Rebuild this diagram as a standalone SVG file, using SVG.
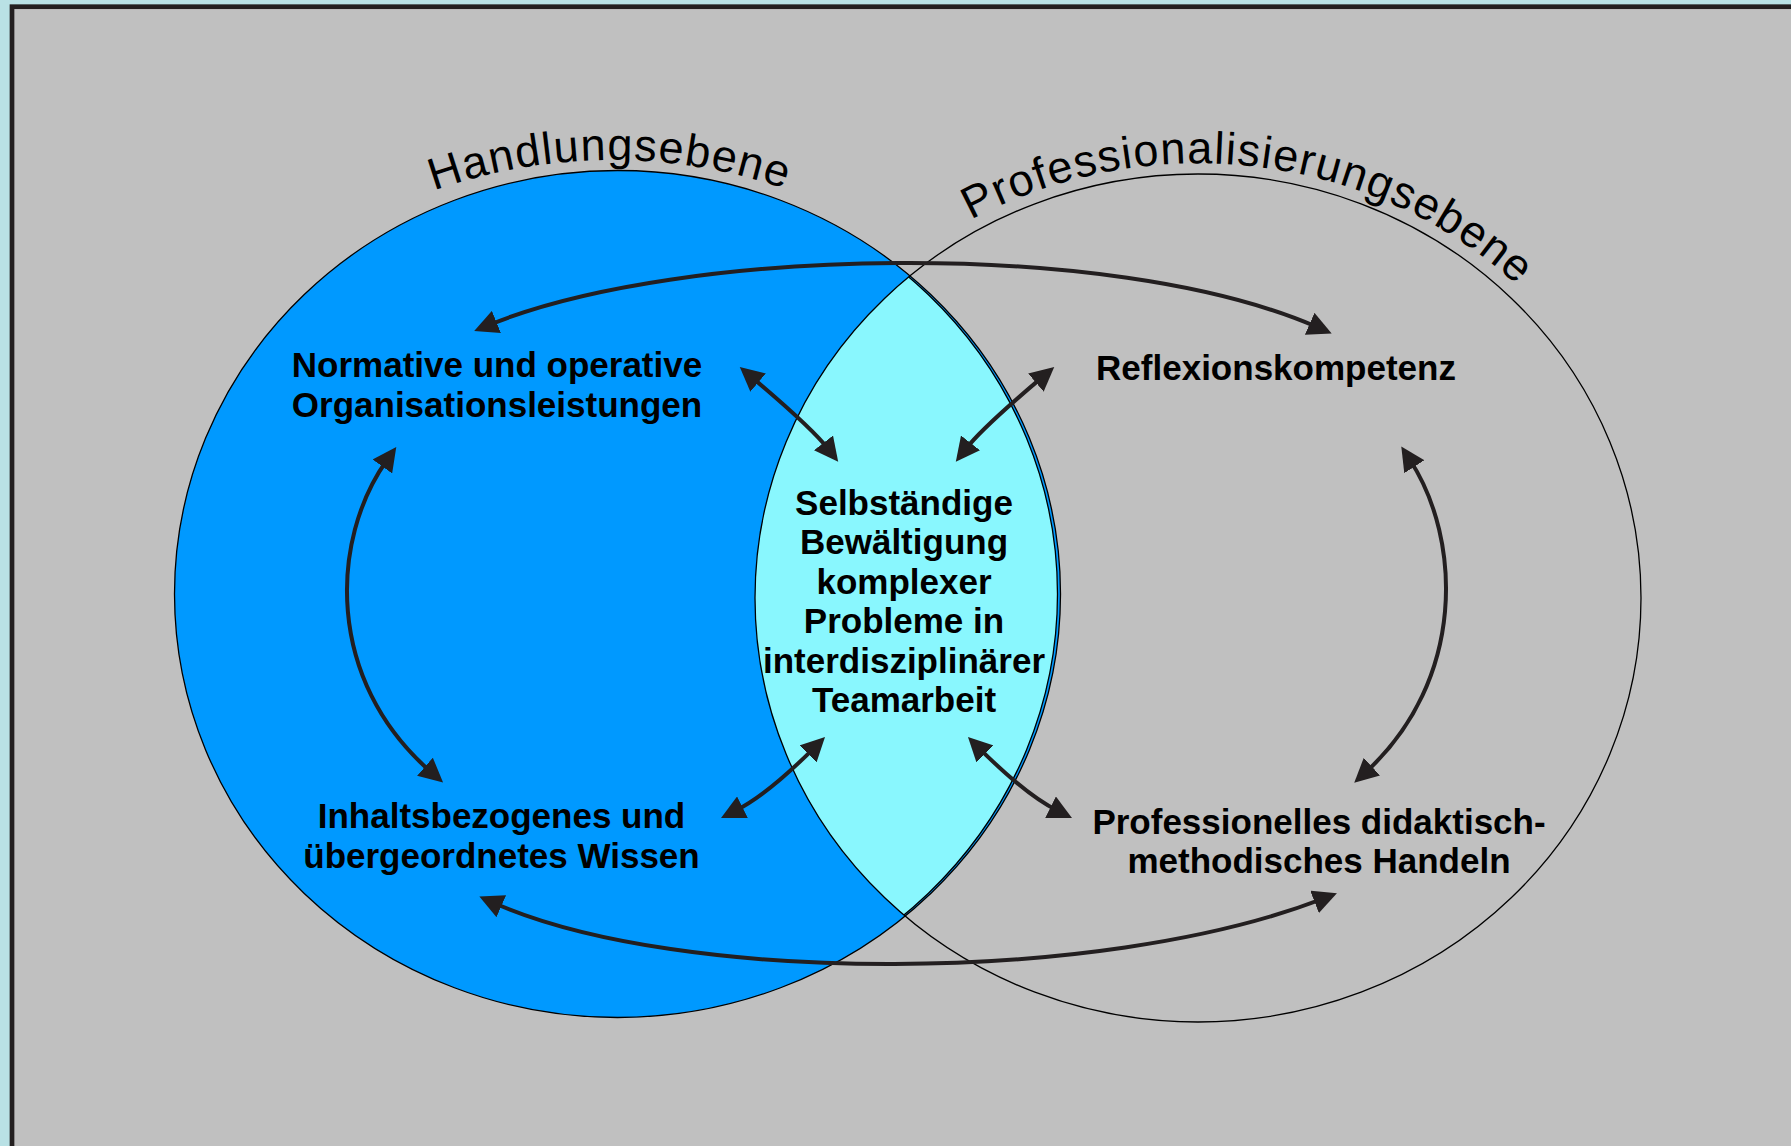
<svg xmlns="http://www.w3.org/2000/svg" width="1791" height="1146" viewBox="0 0 1791 1146">
  <style>
    .lbl { font-family: "Liberation Sans", Arial, Helvetica, sans-serif; font-weight: bold; font-size: 35px; fill: #000; text-anchor: middle; }
    .ttl { font-family: "Liberation Sans", Arial, Helvetica, sans-serif; font-weight: normal; font-size: 45px; letter-spacing: 1.3px; fill: #000; }
    .outline { fill: none; stroke: #000; stroke-width: 1.3; }
    .conn { fill: none; stroke: #231f20; stroke-width: 4; marker-start: url(#ah); marker-end: url(#ah); }
  </style>
  <defs>
    <marker id="ah" viewBox="0 -12 24 24" refX="8" refY="0" markerWidth="24" markerHeight="24" markerUnits="userSpaceOnUse" orient="auto-start-reverse">
      <path d="M0,-12 L24,0 L0,12 z" fill="#231f20"/>
    </marker>
    <clipPath id="rightClip">
      <ellipse cx="1198" cy="598" rx="443" ry="424"/>
    </clipPath>
    <path id="arcLeft" d="M434,190.8 A500,470 0 0 1 1112,630"/>
    <path id="arcRight" d="M971,220 A460,436 0 0 1 1658,599"/>
  </defs>

  <rect x="0" y="0" width="1791" height="1146" fill="#b9e1e5"/>
  <rect id="frame" x="12" y="6.7" width="1800" height="1160" fill="#c0c0c0" stroke="#231f20" stroke-width="4.7"/>

  <g id="circle-handlungsebene">
    <ellipse cx="617.5" cy="594" rx="443" ry="423.5" fill="#0099ff" stroke="#000" stroke-width="1.3"/>
  </g>
  <g id="lens">
    <ellipse cx="616" cy="594" rx="441.5" ry="423.5" fill="#89f7fe" stroke="#000" stroke-width="1.3" clip-path="url(#rightClip)"/>
  </g>
  <g id="circle-professionalisierungsebene">
    <ellipse class="outline" cx="1198" cy="598" rx="443" ry="424"/>
  </g>

  <g id="connectors">
    <path class="conn" d="M489,325 C680,247 1110,237 1317,327"/>
    <path class="conn" d="M494,903 C680,985 1100,985 1322,899"/>
    <path class="conn" d="M387,460 C330,540 325,680 431,772"/>
    <path class="conn" d="M1410,460 C1462,540 1466,680 1366,772"/>
    <path class="conn" d="M752,377.4 Q812,428 828.4,449.2"/>
    <path class="conn" d="M1042,377.4 Q982,428 965.6,449.2"/>
    <path class="conn" d="M735.3,810.8 Q767.1,794.9 813.7,748.3"/>
    <path class="conn" d="M1057.7,810.8 Q1025.9,794.9 979.3,748.3"/>
  </g>

  <g id="title-handlungsebene">
    <text class="ttl"><textPath href="#arcLeft">Handlungsebene</textPath></text>
  </g>
  <g id="title-professionalisierungsebene">
    <text class="ttl"><textPath href="#arcRight">Professionalisierungsebene</textPath></text>
  </g>

  <g id="node-organisation">
    <text class="lbl" x="497" y="377">Normative und operative</text>
    <text class="lbl" x="497" y="417">Organisationsleistungen</text>
  </g>
  <g id="node-wissen">
    <text class="lbl" x="501.5" y="828">Inhaltsbezogenes und</text>
    <text class="lbl" x="501.5" y="868">übergeordnetes Wissen</text>
  </g>
  <g id="node-reflexion">
    <text class="lbl" x="1276" y="380">Reflexionskompetenz</text>
  </g>
  <g id="node-handeln">
    <text class="lbl" x="1319" y="834">Professionelles didaktisch-</text>
    <text class="lbl" x="1319" y="873">methodisches Handeln</text>
  </g>
  <g id="node-center">
    <text class="lbl" x="904" y="515">Selbständige</text>
    <text class="lbl" x="904" y="554.4">Bewältigung</text>
    <text class="lbl" x="904" y="593.8">komplexer</text>
    <text class="lbl" x="904" y="633.2">Probleme in</text>
    <text class="lbl" x="904" y="672.6">interdisziplinärer</text>
    <text class="lbl" x="904" y="712">Teamarbeit</text>
  </g>
</svg>
